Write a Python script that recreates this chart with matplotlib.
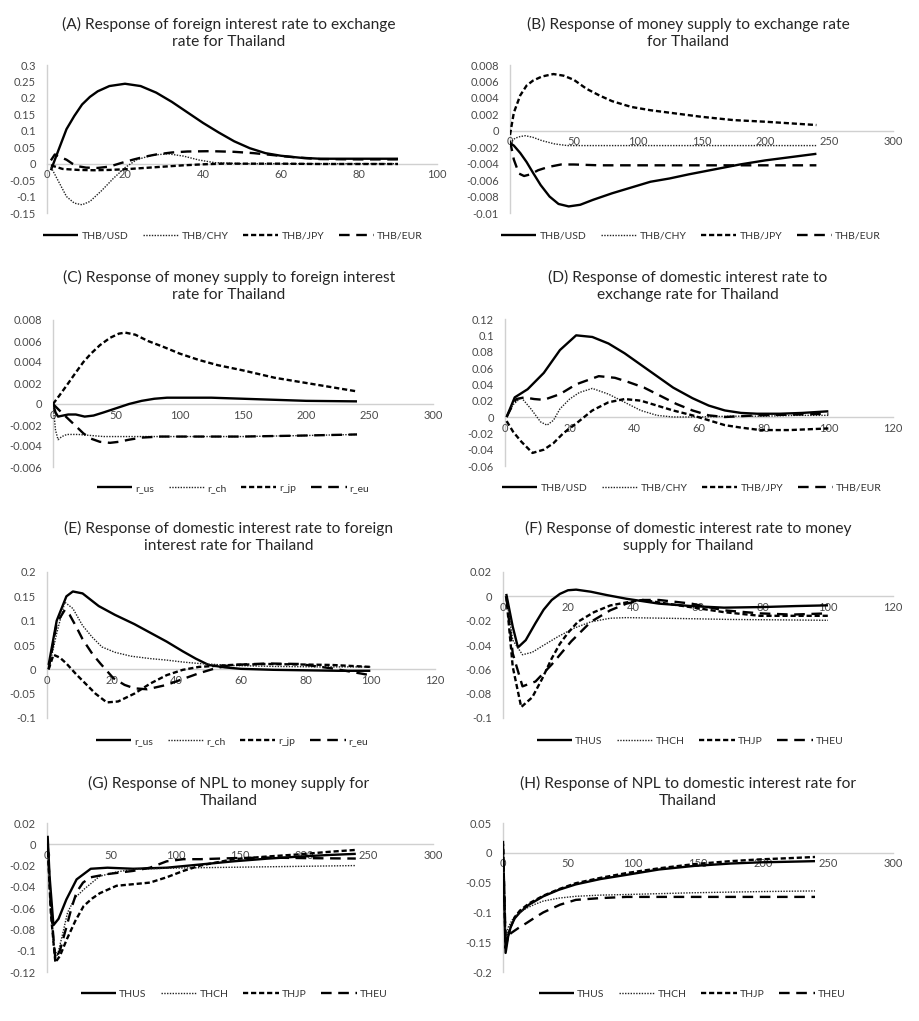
import matplotlib
matplotlib.use("Agg")
import matplotlib.pyplot as plt

plt.rcParams["font.family"] = ["Lato", "DejaVu Sans"]

# ---- (A) foreign interest rate <- exchange rate ----
a_usd_x = [1, 3, 5, 7, 9, 11, 13, 16, 20, 24, 28, 32, 36, 40, 44, 48, 52, 56, 60, 65, 70, 80, 90]
a_usd_y = [-0.02, 0.043, 0.105, 0.145, 0.18, 0.203, 0.22, 0.236, 0.243, 0.236, 0.216, 0.188, 0.156,
           0.124, 0.095, 0.068, 0.047, 0.032, 0.024, 0.018, 0.015, 0.015, 0.015]
a_chy_x = [1, 3, 5, 7, 9, 11, 14, 17, 20, 23, 27, 31, 35, 39, 43, 50, 60, 70, 80, 90]
a_chy_y = [-0.01, -0.055, -0.1, -0.12, -0.125, -0.115, -0.082, -0.045, -0.012, 0.012, 0.026, 0.03,
           0.023, 0.011, 0.003, 0.0, 0.0, 0.0, 0.0, 0.0]
a_jpy_x = [1, 4, 8, 12, 16, 20, 25, 30, 35, 40, 45, 50, 60, 70, 80, 90]
a_jpy_y = [-0.005, -0.016, -0.019, -0.02, -0.019, -0.017, -0.013, -0.009, -0.005, -0.002, 0.0, 0.0,
           0.0, -0.001, -0.001, -0.001]
a_eur_x = [1, 2, 3, 5, 6.5, 8, 10, 13, 16, 19, 22, 25, 28, 32, 36, 42, 48, 53, 58, 62, 66, 70, 80, 90]
a_eur_y = [0.01, 0.028, 0.022, 0.012, 0.0, -0.008, -0.012, -0.013, -0.009, 0.002, 0.012, 0.021, 0.028,
           0.034, 0.037, 0.038, 0.036, 0.032, 0.026, 0.021, 0.017, 0.014, 0.013, 0.013]

# ---- (B) money supply <- exchange rate ----
b_usd_x = [0, 3, 8, 13, 18, 24, 31, 38, 46, 55, 65, 80, 95, 110, 125, 140, 160, 180, 200, 220, 240]
b_usd_y = [-0.0015, -0.0018, -0.0027, -0.0038, -0.0051, -0.0066, -0.008, -0.0089, -0.0092, -0.009,
           -0.0084, -0.0076, -0.0069, -0.0062, -0.0058, -0.0053, -0.0047, -0.0041, -0.0036, -0.0032,
           -0.0028]
b_chy_x = [0, 4, 8, 12, 18, 25, 35, 45, 60, 100, 150, 200, 240]
b_chy_y = [-0.0015, -0.0009, -0.0007, -0.0006, -0.0008, -0.0012, -0.0016, -0.0018, -0.0018, -0.0018,
           -0.0018, -0.0018, -0.0018]
b_jpy_x = [0, 3, 8, 13, 18, 25, 34, 42, 50, 60, 70, 80, 95, 110, 130, 150, 175, 200, 220, 240]
b_jpy_y = [-0.0005, 0.0022, 0.0043, 0.0055, 0.0061, 0.0066, 0.0069, 0.0067, 0.0062, 0.0051, 0.0043,
           0.0036, 0.0029, 0.0025, 0.0021, 0.0017, 0.0013, 0.0011, 0.0009, 0.0007]
b_eur_x = [0, 3, 7, 11, 16, 22, 30, 40, 50, 70, 100, 150, 200, 240]
b_eur_y = [-0.0012, -0.0035, -0.0052, -0.0055, -0.0053, -0.0048, -0.0044, -0.0041, -0.0041, -0.0042,
           -0.0042, -0.0042, -0.0042, -0.0042]

# ---- (C) money supply <- foreign interest rate ----
c_us_x = [0, 2, 4, 8, 12, 18, 25, 32, 40, 50, 60, 70, 80, 90, 100, 125, 150, 175, 200, 240]
c_us_y = [0.0, -0.0008, -0.0012, -0.0011, -0.001, -0.001, -0.0012, -0.0011, -0.0008, -0.0004, 0.0,
          0.0003, 0.0005, 0.0006, 0.0006, 0.0006, 0.0005, 0.0004, 0.0003, 0.00025]
c_ch_x = [0, 2, 4, 7, 11, 20, 30, 40, 60, 100, 150, 200, 240]
c_ch_y = [0.0, -0.0025, -0.0034, -0.0031, -0.0029, -0.0029, -0.003, -0.0031, -0.0031, -0.0031,
          -0.0031, -0.003, -0.0029]
c_jp_x = [0, 5, 11, 18, 24, 30, 37, 45, 52, 57, 65, 75, 88, 100, 115, 130, 150, 175, 200, 220, 240]
c_jp_y = [0.0, 0.0008, 0.0018, 0.003, 0.004, 0.0048, 0.0056, 0.0063, 0.0067, 0.0068, 0.0066, 0.006,
          0.0054, 0.0048, 0.0042, 0.0037, 0.0032, 0.0025, 0.002, 0.0016, 0.0012]
c_eu_x = [0, 5, 11, 18, 24, 30, 37, 45, 52, 60, 70, 85, 100, 150, 200, 240]
c_eu_y = [0.0, -0.0006, -0.0013, -0.0021, -0.0028, -0.0033, -0.0036, -0.0037, -0.0036, -0.0034,
          -0.0032, -0.0031, -0.0031, -0.0031, -0.003, -0.0029]

# ---- (D) domestic interest rate <- exchange rate ----
d_usd_x = [0.5, 3, 7, 12, 17, 22, 27, 32, 37, 42, 47, 52, 58, 63, 68, 73, 78, 85, 92, 100]
d_usd_y = [0.0, 0.024, 0.034, 0.054, 0.082, 0.1, 0.098, 0.09, 0.078, 0.064, 0.05, 0.036, 0.023, 0.014,
           0.008, 0.005, 0.004, 0.004, 0.005, 0.007]
d_chy_x = [0.5, 2.5, 5, 8, 11, 13, 15, 17, 20, 23, 27, 32, 37, 42, 47, 52, 60, 70, 80, 90, 100]
d_chy_y = [0.0, 0.015, 0.024, 0.01, -0.006, -0.01, -0.004, 0.01, 0.022, 0.03, 0.035, 0.028, 0.018,
           0.008, 0.002, 0.0, 0.0, 0.001, 0.001, 0.002, 0.002]
d_jpy_x = [0.5, 2.5, 5, 8.5, 12, 15, 18, 22, 27, 32, 37, 42, 47, 52, 58, 63, 68, 73, 79, 88, 100]
d_jpy_y = [-0.005, -0.018, -0.03, -0.044, -0.04, -0.032, -0.02, -0.008, 0.008, 0.018, 0.022, 0.02,
           0.014, 0.008, 0.002, -0.004, -0.01, -0.013, -0.016, -0.016, -0.014]
d_eur_x = [0.5, 2, 3.5, 6, 9, 12, 17, 22, 29, 34, 38, 43, 48, 53, 58, 63, 68, 78, 90, 100]
d_eur_y = [0.0, 0.012, 0.022, 0.024, 0.022, 0.021, 0.028, 0.04, 0.05, 0.048, 0.043, 0.036, 0.026,
           0.016, 0.008, 0.002, 0.0, 0.002, 0.003, 0.004]

# ---- (E) domestic interest rate <- foreign interest rate ----
e_us_x = [0.5, 3, 6, 8, 11, 16, 21, 27, 32, 37, 42, 46, 50, 55, 60, 70, 80, 90, 100]
e_us_y = [0.009, 0.1, 0.15, 0.16, 0.156, 0.13, 0.112, 0.093, 0.075, 0.057, 0.037, 0.022, 0.009,
          0.004, 0.001, -0.001, -0.002, -0.003, -0.003]
e_ch_x = [0.5, 3, 5.5, 8, 11, 14, 17, 21, 26, 32, 37, 42, 47, 57, 70, 85, 100]
e_ch_y = [0.0, 0.074, 0.138, 0.125, 0.09, 0.066, 0.046, 0.035, 0.027, 0.022, 0.019, 0.015, 0.012,
          0.008, 0.006, 0.005, 0.005]
e_jp_x = [0.5, 2, 4, 6, 9, 12, 15, 18.5, 22, 27, 32, 37, 42, 47, 57, 68, 78, 88, 100]
e_jp_y = [0.0, 0.03, 0.024, 0.012, -0.01, -0.03, -0.05, -0.068, -0.066, -0.05, -0.029, -0.012,
          -0.001, 0.005, 0.009, 0.011, 0.01, 0.009, 0.005]
e_eu_x = [0.5, 3, 5.5, 7, 9, 11, 14, 16.5, 20.5, 24, 27, 31, 37, 42, 47, 52, 57, 68, 78, 88, 100]
e_eu_y = [0.0, 0.095, 0.122, 0.112, 0.088, 0.062, 0.032, 0.012, -0.018, -0.032, -0.039, -0.041,
          -0.032, -0.02, -0.008, 0.002, 0.009, 0.012, 0.011, 0.002, -0.012]

# ---- (F) domestic interest rate <- money supply ----
f_us_x = [1, 3, 4.6, 7, 10, 12.5, 15, 17.5, 20, 22.5, 27, 32, 38, 48, 58, 68, 80, 90, 100]
f_us_y = [0.002, -0.025, -0.042, -0.036, -0.022, -0.011, -0.003, 0.002, 0.005, 0.0055, 0.0038, 0.001,
          -0.002, -0.006, -0.008, -0.0093, -0.0088, -0.008, -0.0074]
f_ch_x = [1, 3, 6, 9, 12, 17, 22, 27, 33, 38, 50, 70, 100]
f_ch_y = [0.0, -0.036, -0.048, -0.046, -0.041, -0.033, -0.026, -0.021, -0.018, -0.0175, -0.018,
          -0.019, -0.0197]
f_jp_x = [1, 3, 5.6, 9, 12, 15, 17.5, 20, 23, 28, 33, 38, 43, 48, 58, 68, 79, 89, 100]
f_jp_y = [0.0, -0.058, -0.091, -0.083, -0.068, -0.051, -0.039, -0.03, -0.021, -0.013, -0.0075, -0.005,
          -0.003, -0.005, -0.009, -0.013, -0.016, -0.016, -0.016]
f_eu_x = [1, 3, 6, 10, 15, 21, 27, 33, 38, 43, 48, 58, 68, 79, 89, 100]
f_eu_y = [0.0, -0.047, -0.074, -0.07, -0.056, -0.037, -0.021, -0.0115, -0.006, -0.003, -0.003, -0.006,
          -0.0115, -0.014, -0.015, -0.014]

# ---- (G) NPL <- money supply ----
g_us_x = [0.5, 2, 5, 9, 15, 23, 34, 47, 67, 93, 119, 145, 171, 197, 220, 240]
g_us_y = [0.008, -0.03, -0.076, -0.07, -0.052, -0.033, -0.023, -0.022, -0.023, -0.022, -0.019, -0.016,
          -0.0135, -0.0115, -0.01, -0.009]
g_ch_x = [0.5, 3, 5, 8, 12, 16, 22, 29, 41, 54, 67, 93, 119, 180, 240]
g_ch_y = [0.0, -0.06, -0.095, -0.105, -0.085, -0.064, -0.05, -0.042, -0.03, -0.026, -0.0235, -0.0225,
          -0.022, -0.021, -0.02]
g_jp_x = [0.5, 3, 6.5, 10, 15.5, 22, 28.5, 35, 41, 54, 67, 80, 93, 106, 119, 145, 171, 197, 220, 240]
g_jp_y = [0.0, -0.065, -0.111, -0.105, -0.089, -0.072, -0.058, -0.051, -0.046, -0.039, -0.0375, -0.036,
          -0.031, -0.025, -0.02, -0.014, -0.0115, -0.0094, -0.007, -0.0053]
g_eu_x = [0.5, 3, 6.5, 10, 15.5, 19, 23, 28, 34, 47, 67, 80, 93, 106, 119, 145, 171, 200, 240]
g_eu_y = [0.0, -0.06, -0.108, -0.1, -0.076, -0.06, -0.045, -0.036, -0.031, -0.028, -0.025, -0.022,
          -0.016, -0.014, -0.014, -0.013, -0.0125, -0.013, -0.0134]

# ---- (H) NPL <- domestic interest rate ----
h_us_x = [0, 2, 4, 6, 9, 13, 20, 31, 43, 56, 75, 95, 120, 147, 175, 198, 220, 240]
h_us_y = [0.005, -0.168, -0.14, -0.124, -0.11, -0.1, -0.087, -0.073, -0.062, -0.053, -0.044, -0.037,
          -0.028, -0.022, -0.018, -0.016, -0.015, -0.014]
h_ch_x = [0, 2, 4, 7, 10, 14, 18, 25, 31, 43, 56, 75, 95, 147, 200, 240]
h_ch_y = [0.01, -0.146, -0.125, -0.113, -0.105, -0.098, -0.093, -0.086, -0.081, -0.076, -0.073, -0.071,
          -0.07, -0.067, -0.065, -0.064]
h_jp_x = [0, 2, 4, 6, 9, 13, 20, 31, 43, 56, 75, 95, 120, 147, 175, 198, 220, 240]
h_jp_y = [0.02, -0.16, -0.138, -0.124, -0.108, -0.097, -0.085, -0.072, -0.061, -0.051, -0.042, -0.034,
          -0.026, -0.019, -0.014, -0.011, -0.009, -0.007]
h_eu_x = [0, 2, 6, 12, 18, 25, 31, 38, 44, 56, 75, 95, 147, 200, 240]
h_eu_y = [0.015, -0.146, -0.135, -0.126, -0.118, -0.108, -0.1, -0.093, -0.087, -0.079, -0.076, -0.074,
          -0.074, -0.074, -0.074]

fx_labels = ["THB/USD", "THB/CHY", "THB/JPY", "THB/EUR"]
r_labels = ["r_us", "r_ch", "r_jp", "r_eu"]
th_labels = ["THUS", "THCH", "THJP", "THEU"]

titles = [
    "(A) Response of foreign interest rate to exchange\nrate for Thailand",
    "(B) Response of money supply to exchange rate\nfor Thailand",
    "(C) Response of money supply to foreign interest\nrate for Thailand",
    "(D) Response of domestic interest rate to\nexchange rate for Thailand",
    "(E) Response of domestic interest rate to foreign\ninterest rate for Thailand",
    "(F) Response of domestic interest rate to money\nsupply for Thailand",
    "(G) Response of NPL to money supply for\nThailand",
    "(H) Response of NPL to domestic interest rate for\nThailand",
]

a_yticks = [0.3, 0.25, 0.2, 0.15, 0.1, 0.05, 0, -0.05, -0.1, -0.15]
b_yticks = [0.008, 0.006, 0.004, 0.002, 0, -0.002, -0.004, -0.006, -0.008, -0.01]
c_yticks = [0.008, 0.006, 0.004, 0.002, 0, -0.002, -0.004, -0.006]
d_yticks = [0.12, 0.1, 0.08, 0.06, 0.04, 0.02, 0, -0.02, -0.04, -0.06]
e_yticks = [0.2, 0.15, 0.1, 0.05, 0, -0.05, -0.1]
f_yticks = [0.02, 0, -0.02, -0.04, -0.06, -0.08, -0.1]
g_yticks = [0.02, 0, -0.02, -0.04, -0.06, -0.08, -0.1, -0.12]
h_yticks = [0.05, 0, -0.05, -0.1, -0.15, -0.2]
x100 = [0, 20, 40, 60, 80, 100]
x120 = [0, 20, 40, 60, 80, 100, 120]
x300 = [0, 50, 100, 150, 200, 250, 300]

W, H = 920, 1021
# axes rectangles in pixels: left, right, top, bottom
panels = [
    dict(rect=(47, 437, 65, 213), xt=x100, yt=a_yticks, labels=fx_labels,
         series=[(a_usd_x, a_usd_y), (a_chy_x, a_chy_y), (a_jpy_x, a_jpy_y), (a_eur_x, a_eur_y)],
         title_y=33, leg=(233, 236)),
    dict(rect=(510, 893, 65, 213), xt=x300, yt=b_yticks, labels=fx_labels,
         series=[(b_usd_x, b_usd_y), (b_chy_x, b_chy_y), (b_jpy_x, b_jpy_y), (b_eur_x, b_eur_y)],
         title_y=33, leg=(691, 236)),
    dict(rect=(53, 433, 320, 467), xt=x300, yt=c_yticks, labels=r_labels,
         series=[(c_us_x, c_us_y), (c_ch_x, c_ch_y), (c_jp_x, c_jp_y), (c_eu_x, c_eu_y)],
         title_y=286, leg=(233, 488)),
    dict(rect=(505, 893, 319, 466), xt=x120, yt=d_yticks, labels=fx_labels,
         series=[(d_usd_x, d_usd_y), (d_chy_x, d_chy_y), (d_jpy_x, d_jpy_y), (d_eur_x, d_eur_y)],
         title_y=286, leg=(692, 488)),
    dict(rect=(47, 435, 572, 718), xt=x120, yt=e_yticks, labels=r_labels,
         series=[(e_us_x, e_us_y), (e_ch_x, e_ch_y), (e_jp_x, e_jp_y), (e_eu_x, e_eu_y)],
         title_y=537, leg=(232, 741)),
    dict(rect=(503, 893, 572, 718), xt=x120, yt=f_yticks, labels=th_labels,
         series=[(f_us_x, f_us_y), (f_ch_x, f_ch_y), (f_jp_x, f_jp_y), (f_eu_x, f_eu_y)],
         title_y=537, leg=(690, 741)),
    dict(rect=(47, 433, 823, 972), xt=x300, yt=g_yticks, labels=th_labels,
         series=[(g_us_x, g_us_y), (g_ch_x, g_ch_y), (g_jp_x, g_jp_y), (g_eu_x, g_eu_y)],
         title_y=792, leg=(234, 994)),
    dict(rect=(503, 893, 823, 972), xt=x300, yt=h_yticks, labels=th_labels,
         series=[(h_us_x, h_us_y), (h_ch_x, h_ch_y), (h_jp_x, h_jp_y), (h_eu_x, h_eu_y)],
         title_y=792, leg=(692, 994)),
]

styles = [
    dict(color="black", lw=1.7, linestyle="-"),
    dict(color="#222222", lw=1.0, linestyle=(0, (1.0, 1.0))),
    dict(color="black", lw=1.7, linestyle=(0, (2.2, 1.2))),
    dict(color="black", lw=1.7, linestyle=(0, (4.5, 2.8))),
]


def fmt(v):
    return "0" if v == 0 else f"{v:g}"


fig = plt.figure(figsize=(W / 100, H / 100), dpi=100)
for i, p in enumerate(panels):
    l, r, t, b = p["rect"]
    ax = fig.add_axes([l / W, 1 - b / H, (r - l) / W, (b - t) / H])
    ax.set_xlim(p["xt"][0], p["xt"][-1])
    ax.set_ylim(p["yt"][-1], p["yt"][0])
    handles = []
    for (xs, ys), st in zip(p["series"], styles):
        (ln,) = ax.plot(xs, ys, solid_capstyle="butt", dash_capstyle="butt", **st)
        handles.append(ln)
    for side in ("top", "right"):
        ax.spines[side].set_visible(False)
    ax.spines["bottom"].set_position(("data", 0))
    ax.spines["left"].set_position(("data", 0))
    for side in ("bottom", "left"):
        ax.spines[side].set_color("#d0d0d0")
        ax.spines[side].set_linewidth(1.0)
        ax.spines[side].set_zorder(0)
    ax.set_xticks(p["xt"])
    ax.set_xticklabels([fmt(v) for v in p["xt"]])
    ax.set_yticks(p["yt"])
    ax.set_yticklabels([fmt(v) for v in p["yt"]])
    ax.tick_params(axis="both", length=0, labelsize=8, colors="#4a4a4a")
    ax.tick_params(axis="y", pad=8)
    ax.tick_params(axis="x", pad=4)
    ax.patch.set_alpha(0)

    cx = 229 if i % 2 == 0 else 688
    fig.text(cx / W, 1 - p["title_y"] / H, titles[i], ha="center", va="center",
             fontsize=11.2, color="#262626", linespacing=1.2)

    lx, ly = p["leg"]
    ax.legend(handles, p["labels"], loc="center", bbox_to_anchor=(lx / W, 1 - ly / H),
              bbox_transform=fig.transFigure, ncol=4, frameon=False,
              prop=dict(family=["Liberation Sans Narrow", "Lato"], size=7.5),
              handlelength=3.4, handletextpad=0.3, columnspacing=1.4, labelcolor="#333333")

fig.savefig("out.png", dpi=100, facecolor="white")
